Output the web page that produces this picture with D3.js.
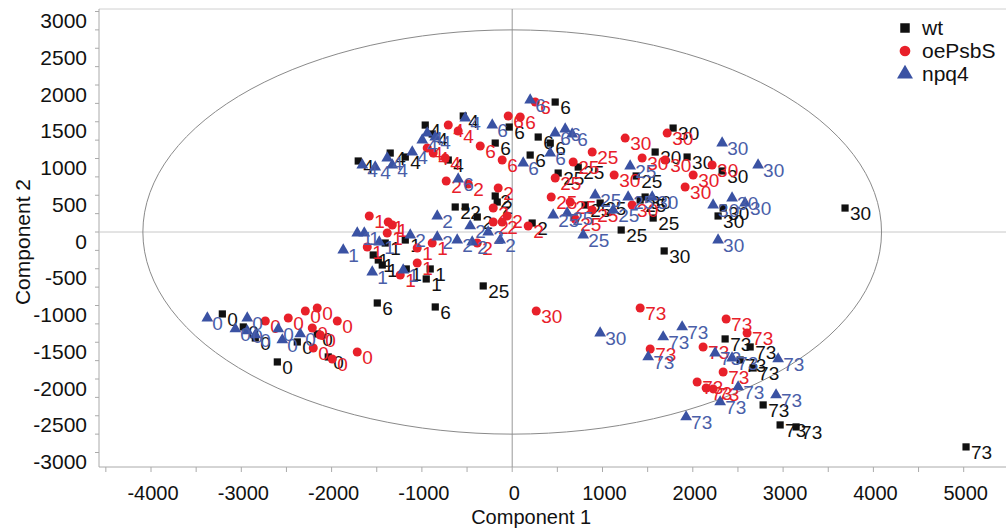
<!DOCTYPE html>
<html><head><meta charset="utf-8">
<script src="https://cdn.jsdelivr.net/npm/d3@7"></script>
<style>body{margin:0;background:#fff}svg{display:block}text{font-family:"Liberation Sans",Arial,sans-serif}</style>
</head><body><svg id="c" width="1006" height="530"></svg>
<script>
// ---- data: [Component 1, Component 2, time label] ----
const wt = [
 [-3210,-1115,"0"],[-2978,-1292,"0"],[-2845,-1442,"0"],[-2601,-1768,"0"],[-2380,-1496,"0"],[-2037,-1700,"0"],[-2159,-1387,"0"],
 [-1406,-150,"1"],[-1184,-109,"1"],[-1539,-313,"1"],[-1483,-381,"1"],[-1439,-449,"1"],[-1173,-503,"1"],[-908,-503,"1"],[-952,-639,"1"],
 [-188,490,"2"],[-166,408,"2"],[-631,340,"2"],[-520,340,"2"],[-387,204,"2"],[221,122,"2"],
 [-1705,966,"4"],[-1351,1074,"4"],[-1184,1020,"4"],[-963,1455,"4"],[-886,1333,"4"],[-708,979,"4"],[-542,1578,"4"],
 [476,1768,"6"],[-33,1428,"6"],[-188,1210,"6"],[288,1292,"6"],[199,1047,"6"],[421,1210,"6"],[-1494,-966,"6"],[-852,-1020,"6"],
 [509,802,"25"],[731,884,"25"],[974,394,"25"],[1417,435,"25"],[1561,190,"25"],[1207,27,"25"],[1373,762,"25"],[-321,-734,"25"],[808,367,"25"],
 [1782,1414,"30"],[1583,1088,"30"],[1937,1020,"30"],[2325,830,"30"],[1472,476,"30"],[2280,218,"30"],[2336,326,"30"],[1683,-258,"30"],[3686,326,"30"],
 [2358,-1455,"73"],[2635,-1564,"73"],[2668,-1850,"73"],[2524,-1741,"73"],[2779,-2353,"73"],[2967,-2625,"73"],[3144,-2652,"73"],[5026,-2924,"73"]
];
const oePsbS = [
 [-2734,-1210,"0"],[-2480,-1170,"0"],[-2291,-1074,"0"],[-2159,-1034,"0"],[-1937,-1210,"0"],[-2214,-1306,"0"],[-2125,-1401,"0"],[-2203,-1578,"0"],[-1993,-1727,"0"],[-1716,-1632,"0"],
 [-1583,218,"1"],[-1373,136,"1"],[-1328,95,"1"],[-1384,-14,"1"],[-1605,-204,"1"],[-1052,-218,"1"],[-886,-150,"1"],[-1052,-422,"1"],[-1240,-585,"1"],
 [-731,694,"2"],[-487,653,"2"],[-155,598,"2"],[-210,326,"2"],[-55,218,"2"],[-111,136,"2"],[177,82,"2"],[-387,-150,"2"],[-210,136,"2"],
 [-941,1142,"4"],[-875,1074,"4"],[-742,1006,"4"],[-598,1374,"4"],[-708,1455,"4"],
 [255,1768,"6"],[-44,1578,"6"],[89,1564,"6"],[-354,1170,"6"],[-111,979,"6"],
 [886,1088,"25"],[476,734,"25"],[675,952,"25"],[432,476,"25"],[642,408,"25"],[697,177,"25"],[886,299,"25"],
 [1251,1278,"30"],[1716,1346,"30"],[1439,1006,"30"],[1129,775,"30"],[1694,979,"30"],[1915,612,"30"],[2004,775,"30"],[2214,911,"30"],[1328,367,"30"],[266,-1074,"30"],
 [1417,-1034,"73"],[2369,-1183,"73"],[2601,-1374,"73"],[2114,-1564,"73"],[1528,-1591,"73"],[2336,-1904,"73"],[2048,-2040,"73"],[2148,-2122,"73"],[2225,-2135,"73"]
];
const npq4 = [
 [-3376,-1170,"0"],[-2934,-1170,"0"],[-3066,-1319,"0"],[-2934,-1346,"0"],[-2845,-1401,"0"],[-2590,-1319,"0"],[-2546,-1469,"0"],[-2347,-1387,"0"],
 [-1716,-14,"1"],[-1638,-14,"1"],[-1871,-245,"1"],[-1550,-544,"1"],[-1207,-517,"1"],[-1472,-136,"1"],
 [-830,218,"2"],[-1129,-41,"2"],[-830,-68,"2"],[-609,-109,"2"],[-443,-136,"2"],[-465,82,"2"],[-266,0,"2"],[-133,-109,"2"],
 [-1660,911,"4"],[-1517,884,"4"],[-1384,1006,"4"],[-1328,911,"4"],[-1107,1088,"4"],[-996,1251,"4"],[-941,1346,"4"],[-852,1292,"4"],[-520,1550,"4"],
 [199,1795,"6"],[-221,1455,"6"],[476,1346,"6"],[587,1401,"6"],[664,1333,"6"],[122,938,"6"],[-598,721,"6"],[421,1074,"6"],
 [1306,898,"25"],[1284,476,"25"],[1118,299,"25"],[609,258,"25"],[786,-41,"25"],[454,231,"25"],[919,503,"25"],
 [2325,1210,"30"],[2723,911,"30"],[2225,367,"30"],[2435,462,"30"],[2579,394,"30"],[2280,-109,"30"],[974,-1374,"30"],[1550,476,"30"],
 [1882,-1292,"73"],[1672,-1428,"73"],[1506,-1700,"73"],[2247,-1646,"73"],[2435,-1714,"73"],[2945,-1727,"73"],[2502,-2108,"73"],[2303,-2312,"73"],[1926,-2516,"73"],[2922,-2217,"73"]
];
const seriesNames = ["wt","oePsbS","npq4"];
const xTicks = [-4000,-3000,-2000,-1000,0,1000,2000,3000,4000,5000];
const yTicks = [3000,2500,2000,1500,1000,500,0,-500,-1000,-1500,-2000,-2500,-3000];
const ellipseRadii = [4090, 2750]; // Hotelling T2 ellipse semi-axes

// ---- drawing ----
const svg = d3.select("#c");
const x = d3.scaleLinear().domain([-4000,5000]).range([151,963.7]);
const y = d3.scaleLinear().domain([-3000,3000]).range([452.5,11.5]);
const L = 99, R = 1006, T = 9, B = 467;
const markFill = {wt:"#111111", oePsbS:"#e8202a", npq4:"#3a52a3"};
const labFill  = {wt:"#111111", oePsbS:"#e8202a", npq4:"#4a5ea8"};
const data = {wt:wt, oePsbS:oePsbS, npq4:npq4};

// frame
svg.append("line").attr("x1",L).attr("x2",R).attr("y1",T).attr("y2",T).attr("stroke","#d0d0d0");
svg.append("line").attr("x1",L).attr("x2",L).attr("y1",T).attr("y2",B).attr("stroke","#aaa");
svg.append("line").attr("x1",L).attr("x2",R).attr("y1",B).attr("y2",B).attr("stroke","#aaa");

// minor ticks
const yMinor = d3.range(-3000,3001,250), xMinor = d3.range(-4500,5501,500);
svg.selectAll(".ym").data(yMinor).join("line").attr("x1",L-4).attr("x2",L).attr("y1",d=>y(d)).attr("y2",d=>y(d)).attr("stroke","#aaa");
svg.selectAll(".xm").data(xMinor).join("line").attr("x1",d=>x(d)).attr("x2",d=>x(d)).attr("y1",B).attr("y2",B+5).attr("stroke","#aaa");

// tick labels (the reference prints them slightly below their ticks)
svg.selectAll(".yl").data(yTicks).join("text").attr("x",87).attr("y",d=>y(d)+9).attr("dy","0.36em")
  .attr("text-anchor","end").attr("font-size",21).attr("fill","#111").text(d=>d);
svg.selectAll(".xl").data(xTicks).join("text").attr("x",d=>x(d)+2).attr("y",500)
  .attr("text-anchor","middle").attr("font-size",20).attr("fill","#111").text(d=>d);
svg.append("text").attr("x",x(0)+19).attr("y",524).attr("text-anchor","middle").attr("font-size",20).attr("fill","#111").text("Component 1");
svg.append("text").attr("transform","translate(30,"+242+") rotate(-90)").attr("text-anchor","middle").attr("font-size",21).attr("fill","#111").text("Component 2");

// zero lines and ellipse
svg.append("line").attr("x1",L).attr("x2",R).attr("y1",y(0)).attr("y2",y(0)).attr("stroke","#c8c8c8");
svg.append("line").attr("x1",x(0)).attr("x2",x(0)).attr("y1",T).attr("y2",B).attr("stroke","#999");
svg.append("ellipse").attr("cx",x(0)).attr("cy",y(0)).attr("rx",x(ellipseRadii[0])-x(0)).attr("ry",y(0)-y(ellipseRadii[1]))
  .attr("fill","none").attr("stroke","#8a8a8a").attr("stroke-width",1);

const sym = {wt:d3.symbol(d3.symbolSquare,52)(), oePsbS:d3.symbol(d3.symbolCircle,64)(), npq4:d3.symbol(d3.symbolTriangle,60)()};

seriesNames.forEach(name=>{
  const g = svg.append("g");
  g.selectAll("path").data(data[name]).join("path").attr("d",sym[name])
   .attr("transform",d=>`translate(${x(d[0])},${y(d[1])})`).attr("fill",markFill[name]);
  g.selectAll("text").data(data[name]).join("text").attr("x",d=>x(d[0])+5).attr("y",d=>y(d[1])+12)
   .attr("font-size",19).attr("fill",labFill[name]).text(d=>d[2]);
});

// legend
const leg = svg.append("g");
seriesNames.forEach((name,i)=>{
  const cy = 28 + i*23;
  leg.append("path").attr("d",d3.symbol(name==="wt"?d3.symbolSquare:name==="oePsbS"?d3.symbolCircle:d3.symbolTriangle, name==="npq4"?110:90)())
     .attr("transform",`translate(905,${cy})`).attr("fill",markFill[name]);
  leg.append("text").attr("x",922).attr("y",cy+7).attr("font-size",21).attr("fill","#111").text(name);
});
</script></body></html>
